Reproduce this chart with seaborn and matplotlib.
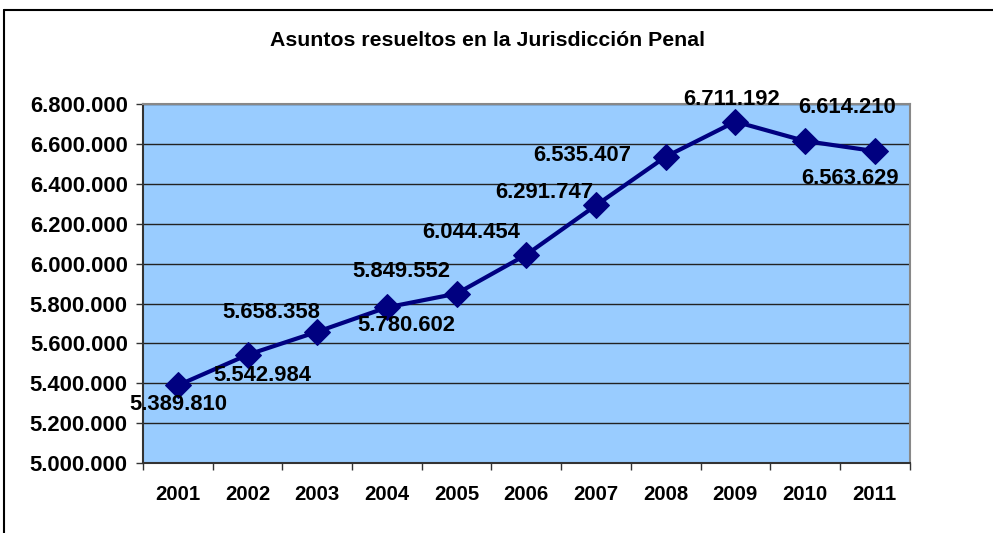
import matplotlib
matplotlib.use("Agg")
import matplotlib.pyplot as plt
import seaborn as sns
import pandas as pd
from matplotlib.lines import Line2D

# data
years = [2001, 2002, 2003, 2004, 2005, 2006, 2007, 2008, 2009, 2010, 2011]
resueltos = [5389810, 5542984, 5658358, 5780602, 5849552, 6044454,
             6291747, 6535407, 6711192, 6614210, 6563629]
# label offsets (points) as placed in the original
label_dx = [0, 11, -33, 14, -40, -40, -37, -60, -3, 30, -18]
label_dy = [-14, -15, 14, -13, 16, 16, 9, 1, 16, 24, -20]

df = pd.DataFrame({"year": years, "valor": resueltos})

sns.set_theme(style="white", rc={"text.color": "black", "xtick.color": "black",
                                 "ytick.color": "black"})
plt.rcParams["font.family"] = ["Liberation Sans", "DejaVu Sans"]

fig = plt.figure(figsize=(9.93, 5.33), dpi=100)
ax = fig.add_axes([0.144, 0.131, 0.772, 0.674])
ax.set_facecolor("#99CCFF")

sns.lineplot(data=df, x="year", y="valor", ax=ax, color="#000080",
             linewidth=3, marker="D", markersize=13, markeredgecolor="#000080")

for x, v, dx, dy in zip(years, resueltos, label_dx, label_dy):
    ax.annotate(f"{v:,}".replace(",", "."), (x, v), xytext=(dx, dy),
                textcoords="offset points", ha="center", va="center",
                fontsize=15.8, fontweight="bold", color="black")

ax.set_xlim(2000.5, 2011.5)
ax.set_ylim(5000000, 6800000)
ax.set_yticks(range(5000000, 6800001, 200000))
ax.set_yticklabels([f"{t:,}".replace(",", ".") for t in range(5000000, 6800001, 200000)],
                   fontsize=15.8, fontweight="bold", color="black")
ax.set_xticks(years)
ax.set_xticklabels([str(y) for y in years], fontsize=14.7, fontweight="bold", color="black")
ax.set_xticks([y + 0.5 for y in [2000] + years], minor=True)
ax.tick_params(axis="x", which="major", length=0, pad=16)
ax.tick_params(axis="x", which="minor", length=5, width=1, color="#333333", direction="out", bottom=True)
ax.tick_params(axis="y", length=5, width=1, color="#333333", direction="out", left=True, pad=6)
ax.grid(axis="y", color="#222222", linewidth=1)
ax.set_axisbelow(True)
ax.set_xlabel("")
ax.set_ylabel("")
for s in ax.spines.values():
    s.set_color("#888888")
    s.set_linewidth(1.5)
ax.spines["left"].set_color("#333333")
ax.spines["bottom"].set_color("#333333")

fig.text(0.491, 0.924, "Asuntos resueltos en la Jurisdicción Penal",
         ha="center", va="center", fontsize=15.3, fontweight="bold", color="black")

# outer chart border (top and left)
fig.add_artist(Line2D([0.004, 0.004], [0, 0.981], color="black", linewidth=1.5))
fig.add_artist(Line2D([0.004, 1.0], [0.981, 0.981], color="black", linewidth=1.5))

fig.savefig("out.png", dpi=100)
